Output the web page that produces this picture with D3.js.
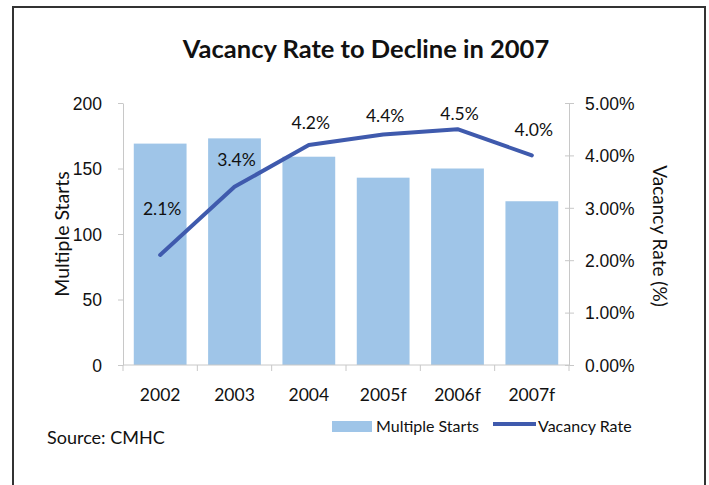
<!DOCTYPE html>
<html>
<head>
<meta charset="utf-8">
<script src="https://cdn.jsdelivr.net/npm/d3@7"></script>
<style>
  body { margin: 0; background: #fff; }
  svg { font-family: Lato, "Open Sans", sans-serif; }
</style>
</head>
<body>
<svg id="chart"></svg>
<script>
const years = ['2002', '2003', '2004', '2005f', '2006f', '2007f'];
const starts = [169, 173, 159, 143, 150, 125];
const vacancy = [2.1, 3.4, 4.2, 4.4, 4.5, 4.0];
const leftTicks = [0, 50, 100, 150, 200];
const rightTicks = [0, 1, 2, 3, 4, 5];
// how far each data label sits above its point, in px
const labelLift = [46, 27, 22, 19, 16, 26];

const width = 709, height = 485;
const margin = {top: 103, right: 140, bottom: 120, left: 123};
const barColor = '#9fc5e8';
const lineColor = '#3f5aad';
const gridColor = '#c8c8c8';
const textColor = '#111';

const svg = d3.select('#chart').attr('width', width).attr('height', height);

// frame
svg.append('path')
  .attr('d', `M13,${height} V7 H705 V${height}`)
  .attr('fill', 'none')
  .attr('stroke', '#333')
  .attr('stroke-width', 2);

const x = d3.scaleBand()
  .domain(years)
  .range([margin.left, width - margin.right])
  .paddingInner(0.29)
  .paddingOuter(0.145);

const y = d3.scaleLinear()
  .domain([0, 200])
  .range([height - margin.bottom, margin.top]);

const y2 = d3.scaleLinear()
  .domain([0, 5])
  .range([height - margin.bottom, margin.top]);

svg.append('text')
  .attr('x', 366)
  .attr('y', 58)
  .attr('text-anchor', 'middle')
  .attr('font-size', 25.5)
  .attr('font-weight', 'bold')
  .attr('fill', textColor)
  .text('Vacancy Rate to Decline in 2007');

// bars
svg.append('g')
  .selectAll('rect')
  .data(starts)
  .join('rect')
  .attr('x', (d, i) => x(years[i]))
  .attr('y', d => y(d))
  .attr('width', x.bandwidth())
  .attr('height', d => y(0) - y(d))
  .attr('fill', barColor);

function styleAxis(g) {
  g.select('.domain').attr('stroke', gridColor);
  g.selectAll('.tick line').attr('stroke', gridColor);
  g.selectAll('.tick text')
    .attr('font-size', 17.5)
    .attr('fill', textColor);
}

svg.append('g')
  .attr('transform', `translate(${margin.left},0)`)
  .call(d3.axisLeft(y).tickValues(leftTicks).tickSize(5).tickPadding(16).tickSizeOuter(0))
  .call(styleAxis)
  .call(g => g.selectAll('.tick text').attr('dy', '0.36em'));

svg.append('g')
  .attr('transform', `translate(${width - margin.right},0)`)
  .call(d3.axisRight(y2).tickValues(rightTicks).tickSize(5).tickPadding(11).tickSizeOuter(0)
    .tickFormat(d => d3.format('.2f')(d) + '%'))
  .call(styleAxis)
  .call(g => g.selectAll('.tick line').attr('x1', -4))
  .call(g => g.selectAll('.tick text').attr('dy', '0.36em'));

// x axis, ticks between the categories
const xAxis = svg.append('g')
  .attr('transform', `translate(0,${height - margin.bottom})`);
xAxis.append('line')
  .attr('x1', margin.left).attr('x2', width - margin.right)
  .attr('stroke', gridColor);
xAxis.selectAll('.bound')
  .data(d3.range(years.length + 1))
  .join('line')
  .attr('class', 'bound')
  .attr('x1', i => x(years[0]) - x.step() * x.paddingInner() / 2 + i * x.step())
  .attr('x2', i => x(years[0]) - x.step() * x.paddingInner() / 2 + i * x.step())
  .attr('y1', 0).attr('y2', 6)
  .attr('stroke', gridColor);
xAxis.selectAll('.lbl')
  .data(years)
  .join('text')
  .attr('class', 'lbl')
  .attr('x', d => x(d) + x.bandwidth() / 2)
  .attr('y', 36)
  .attr('text-anchor', 'middle')
  .attr('font-size', 17.5)
  .attr('fill', textColor)
  .text(d => d);

// axis titles
svg.append('text')
  .attr('transform', `translate(69,234) rotate(-90)`)
  .attr('text-anchor', 'middle')
  .attr('font-size', 19.5)
  .attr('fill', textColor)
  .text('Multiple Starts');

svg.append('text')
  .attr('transform', `translate(653,236) rotate(90)`)
  .attr('text-anchor', 'middle')
  .attr('font-size', 19)
  .attr('fill', textColor)
  .text('Vacancy Rate (%)');

// line
const line = d3.line()
  .x((d, i) => x(years[i]) + x.bandwidth() / 2)
  .y(d => y2(d));

svg.append('path')
  .datum(vacancy)
  .attr('d', line)
  .attr('fill', 'none')
  .attr('stroke', lineColor)
  .attr('stroke-width', 4)
  .attr('stroke-linejoin', 'round')
  .attr('stroke-linecap', 'round');

svg.append('g')
  .selectAll('text')
  .data(vacancy)
  .join('text')
  .attr('x', (d, i) => x(years[i]) + x.bandwidth() / 2 + 2)
  .attr('y', (d, i) => y2(d) - labelLift[i])
  .attr('dy', '0.36em')
  .attr('text-anchor', 'middle')
  .attr('font-size', 17.5)
  .attr('fill', textColor)
  .text(d => d3.format('.1f')(d) + '%');

// legend
const legend = svg.append('g').attr('font-size', 16).attr('fill', textColor);
legend.append('rect')
  .attr('x', 332).attr('y', 421).attr('width', 40).attr('height', 11)
  .attr('fill', barColor);
legend.append('text').attr('x', 376).attr('y', 432).text('Multiple Starts');
legend.append('line')
  .attr('x1', 493).attr('x2', 536).attr('y1', 424).attr('y2', 424)
  .attr('stroke', lineColor).attr('stroke-width', 4);
legend.append('text').attr('x', 538).attr('y', 432).text('Vacancy Rate');

svg.append('text')
  .attr('x', 47)
  .attr('y', 444)
  .attr('font-size', 18)
  .attr('fill', textColor)
  .text('Source: CMHC');
</script>
</body>
</html>
